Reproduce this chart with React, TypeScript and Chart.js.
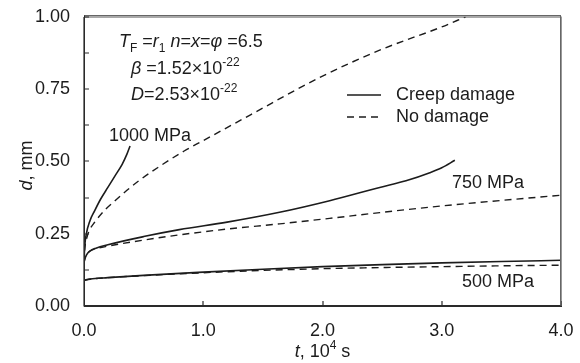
import React, { useEffect, useRef } from "react";
import { Chart, registerables } from "chart.js";

Chart.register(...registerables);

// ---- data (t in 10^4 s, d in mm) ----
const t500 = [0, 0.05, 0.2, 0.5, 1.0, 1.5, 2.0, 2.5, 3.0, 3.5, 4.0];
const d500Creep = [0.089, 0.093, 0.098, 0.106, 0.117, 0.127, 0.136, 0.143, 0.149, 0.154, 0.158];
const d500None = [0.089, 0.093, 0.098, 0.105, 0.115, 0.123, 0.129, 0.133, 0.136, 0.139, 0.141];

const t750Creep = [0, 0.005, 0.02, 0.05, 0.1, 0.2, 0.5, 0.8, 1.2, 1.64, 2.06, 2.48, 2.7, 2.9, 3.0, 3.11];
const d750Creep = [0.148, 0.16, 0.176, 0.19, 0.2, 0.212, 0.24, 0.264, 0.29, 0.324, 0.364, 0.41, 0.433, 0.461, 0.478, 0.504];
const t750None = [0, 0.005, 0.02, 0.05, 0.1, 0.2, 0.5, 0.8, 1.2, 1.64, 2.06, 2.48, 3.0, 3.5, 4.0];
const d750None = [0.148, 0.16, 0.176, 0.19, 0.198, 0.207, 0.228, 0.246, 0.266, 0.284, 0.303, 0.323, 0.346, 0.365, 0.383];

const t1000Creep = [0, 0.005, 0.02, 0.05, 0.09, 0.14, 0.2, 0.26, 0.32, 0.36, 0.386];
const d1000Creep = [0.15, 0.2, 0.25, 0.295, 0.33, 0.37, 0.41, 0.45, 0.49, 0.525, 0.553];
const t1000None = [0, 0.005, 0.02, 0.05, 0.09, 0.17, 0.26, 0.36, 0.46, 0.62, 0.84, 1.0, 1.4, 2.0, 2.5, 3.0, 3.2];
const d1000None = [0.15, 0.19, 0.23, 0.265, 0.29, 0.33, 0.364, 0.4, 0.433, 0.479, 0.536, 0.572, 0.662, 0.795, 0.888, 0.965, 1.0];

const xTicks = [0, 1, 2, 3, 4];
const stressLabels = ["1000 MPa", "750 MPa", "500 MPa"];
const legendLabels = ["Creep damage", "No damage"];

const FONT = '"Liberation Sans", Arial, sans-serif';
const INK = "#1c1c1c";
const DASH = [7, 5];

type Seg = { t: string; it?: boolean; sub?: boolean; sup?: boolean };

function drawRich(ctx: CanvasRenderingContext2D, segs: Seg[], x: number, y: number, size: number) {
  let cx = x;
  for (const s of segs) {
    const sz = s.sub || s.sup ? Math.round(size * 0.68) : size;
    ctx.font = `${s.it ? "italic " : ""}${sz}px ${FONT}`;
    const dy = s.sub ? size * 0.3 : s.sup ? -size * 0.42 : 0;
    ctx.fillText(s.t, cx, y + dy);
    cx += ctx.measureText(s.t).width;
  }
  return cx - x;
}

function richWidth(ctx: CanvasRenderingContext2D, segs: Seg[], size: number) {
  let w = 0;
  for (const s of segs) {
    const sz = s.sub || s.sup ? Math.round(size * 0.68) : size;
    ctx.font = `${s.it ? "italic " : ""}${sz}px ${FONT}`;
    w += ctx.measureText(s.t).width;
  }
  return w;
}

const decorPlugin = {
  id: "decor",
  afterDatasetsDraw(chart: any) {
    const ctx: CanvasRenderingContext2D = chart.ctx;
    const xs = chart.scales.x;
    const ys = chart.scales.y;
    const left = Math.round(xs.left);
    const right = Math.round(xs.right);
    const top = Math.round(ys.top);
    const bottom = Math.round(ys.bottom);
    ctx.save();
    ctx.setLineDash([]);
    ctx.lineWidth = 1.2;
    ctx.strokeStyle = "#555555";
    ctx.beginPath();
    ctx.moveTo(left, top);
    ctx.lineTo(right, top);
    ctx.lineTo(right, bottom);
    ctx.stroke();
    ctx.strokeStyle = "#2a2a2a";
    ctx.beginPath();
    ctx.moveTo(left, top);
    ctx.lineTo(left, bottom);
    ctx.lineTo(right, bottom);
    for (const v of xTicks) {
      const px = Math.round(xs.getPixelForValue(v));
      ctx.moveTo(px, bottom);
      ctx.lineTo(px, bottom - 5);
    }
    for (let i = 0; i <= 8; i++) {
      const py = Math.round(ys.getPixelForValue(i * 0.125));
      ctx.moveTo(left, py);
      ctx.lineTo(left + 5, py);
    }
    ctx.stroke();
    ctx.restore();
  },
  afterDraw(chart: any) {
    const ctx: CanvasRenderingContext2D = chart.ctx;
    const area = chart.chartArea;
    const left = area.left;
    const right = area.right;
    const top = area.top;
    const bottom = area.bottom;
    ctx.save();
    ctx.setLineDash([]);

    ctx.fillStyle = INK;
    ctx.textBaseline = "alphabetic";
    ctx.textAlign = "left";
    // parameters
    drawRich(ctx, [
      { t: "T", it: true }, { t: "F", sub: true }, { t: " =" }, { t: "r", it: true }, { t: "1", sub: true },
      { t: " " }, { t: "n", it: true }, { t: "=" }, { t: "x", it: true }, { t: "=" }, { t: "\u03C6", it: true }, { t: " =6.5" },
    ], 119, 47, 18);
    drawRich(ctx, [{ t: "\u03B2", it: true }, { t: " =1.52\u00D710" }, { t: "-22", sup: true }], 131, 74, 18);
    drawRich(ctx, [{ t: "D", it: true }, { t: "=2.53\u00D710" }, { t: "-22", sup: true }], 131, 100, 18);

    // legend
    ctx.strokeStyle = INK;
    ctx.lineWidth = 1.5;
    ctx.beginPath();
    ctx.moveTo(347, 95);
    ctx.lineTo(381, 95);
    ctx.stroke();
    ctx.setLineDash(DASH);
    ctx.beginPath();
    ctx.moveTo(347, 117);
    ctx.lineTo(383, 117);
    ctx.stroke();
    ctx.setLineDash([]);
    ctx.font = `18px ${FONT}`;
    ctx.fillText(legendLabels[0], 396, 100);
    ctx.fillText(legendLabels[1], 396, 122);

    // stress labels
    ctx.fillText(stressLabels[0], 109, 141);
    ctx.fillText(stressLabels[1], 452, 188);
    ctx.fillText(stressLabels[2], 462, 287);

    // x title
    const xt: Seg[] = [{ t: "t", it: true }, { t: ", 10" }, { t: "4", sup: true }, { t: " s" }];
    const xw = richWidth(ctx, xt, 18);
    drawRich(ctx, xt, (left + right) / 2 - xw / 2, 357, 18);

    // y title
    const yt: Seg[] = [{ t: "d", it: true }, { t: ", mm" }];
    const yw = richWidth(ctx, yt, 18);
    ctx.translate(32, (top + bottom) / 2 + 4);
    ctx.rotate(-Math.PI / 2);
    drawRich(ctx, yt, -yw / 2, 0, 18);
    ctx.restore();
  },
};

function pts(t: number[], d: number[]) {
  return t.map((v, i) => ({ x: v, y: d[i] }));
}

export default function App() {
  const ref = useRef<HTMLCanvasElement | null>(null);
  useEffect(() => {
    if (!ref.current) return;
    const solid = (t: number[], d: number[]) => ({
      data: pts(t, d),
      borderColor: INK,
      borderWidth: 1.6,
      pointRadius: 0,
      fill: false,
      cubicInterpolationMode: "monotone" as const,
    });
    const dashed = (t: number[], d: number[]) => ({
      ...solid(t, d),
      borderWidth: 1.4,
      borderDash: DASH,
    });
    const chart = new Chart(ref.current, {
      type: "line",
      data: {
        datasets: [
          solid(t1000Creep, d1000Creep),
          dashed(t1000None, d1000None),
          solid(t750Creep, d750Creep),
          dashed(t750None, d750None),
          solid(t500, d500Creep),
          dashed(t500, d500None),
        ],
      },
      options: {
        responsive: false,
        animation: false,
        devicePixelRatio: 1,
        layout: { padding: { left: 0, right: 19, top: 15, bottom: 0 } },
        plugins: { legend: { display: false }, tooltip: { enabled: false } },
        scales: {
          x: {
            type: "linear",
            min: 0,
            max: 4,
            grid: { display: false },
            border: { display: true, color: "#2a2a2a", width: 1 },
            afterFit: (s: any) => { s.height = 57; },
            ticks: {
              stepSize: 1,
              padding: 6,
              color: INK,
              font: { family: FONT, size: 18 },
              maxRotation: 0,
              callback: (v: any) => Number(v).toFixed(1),
            },
          },
          y: {
            type: "linear",
            min: 0,
            max: 1,
            grid: { display: false },
            border: { display: true, color: "#2a2a2a", width: 1 },
            afterFit: (s: any) => { s.width = 84; },
            ticks: {
              stepSize: 0.125,
              padding: 6,
              color: INK,
              font: { family: FONT, size: 18 },
              autoSkip: false,
              callback: (v: any) => {
                const n = Number(v);
                return Math.abs(n * 4 - Math.round(n * 4)) < 1e-6 ? n.toFixed(2) : "";
              },
            },
          },
        },
      },
      plugins: [decorPlugin],
    });
    return () => chart.destroy();
  }, []);
  return (
    <div style={{ position: "fixed", left: 0, top: 0, width: 580, height: 363, background: "#fff" }}>
      <canvas ref={ref} width={580} height={363} style={{ width: 580, height: 363, display: "block" }} />
      <div
        style={{
          position: "absolute",
          left: 84,
          top: 15,
          width: 477,
          height: 291,
          boxSizing: "border-box",
          borderLeft: "1px solid #2a2a2a",
          borderBottom: "1px solid #2a2a2a",
          borderTop: "1px solid #666",
          borderRight: "1px solid #666",
          pointerEvents: "none",
        }}
      />
    </div>
  );
}
